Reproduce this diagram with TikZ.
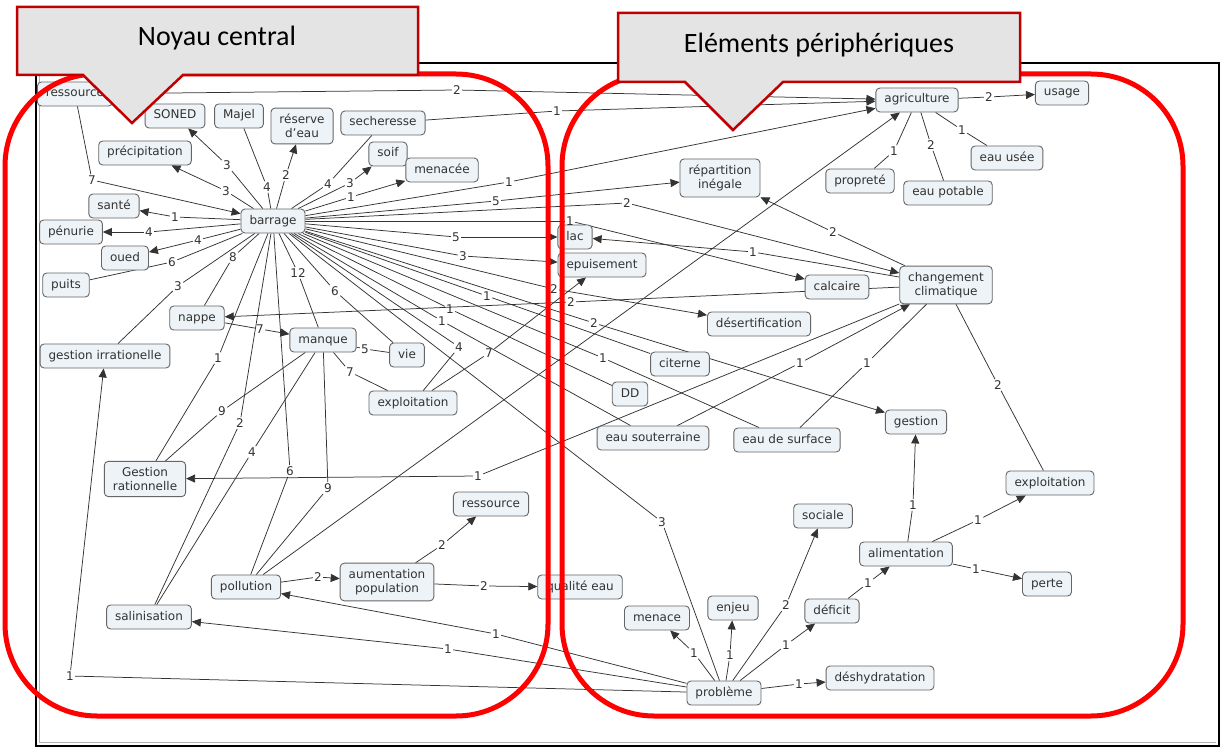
\documentclass[tikz,border=0pt]{standalone}
\usepackage{fontspec}
\setmainfont{DejaVu Sans}
\newfontfamily\calfont{Carlito}
\usetikzlibrary{arrows.meta}
\pgfdeclarelayer{bg}
\pgfdeclarelayer{edges}
\pgfdeclarelayer{top}
\pgfsetlayers{bg,edges,main,top}
\definecolor{nfill}{HTML}{EDF3F6}
\definecolor{nbord}{HTML}{666666}
\definecolor{tcol}{HTML}{333333}
\definecolor{ecol}{HTML}{333333}
\definecolor{cfill}{HTML}{E4E4E4}
\definecolor{cbord}{HTML}{C00000}
\tikzset{
 base/.style={draw=nbord, fill=nfill, rounded corners=4pt, line width=0.9pt, text=tcol, font=\fontsize{12}{14}\selectfont, inner xsep=8.5pt},
 cn/.style={base, text height=9pt, text depth=3pt, inner ysep=6pt},
 cn2/.style={base, align=center, inner ysep=6pt},
 lb/.style={text=tcol, font=\fontsize{12}{14}\selectfont, inner sep=1.2pt},
 ed/.style={draw=ecol, line width=0.75pt},
 ar/.style={ed, -{Triangle[length=9pt,width=8pt]}},
 redbox/.style={draw=red, line width=5pt, rounded corners=92pt},
 callout/.style={draw=cbord, fill=cfill, line width=2.5pt, line join=miter},
}
\newcommand\cmlink[4]{\draw[ed] (#1) -- (#2); \draw[#4] (#2) -- (#3);}
\begin{document}
\begin{tikzpicture}[x=1pt,y=-1pt]
\useasboundingbox (0,0) rectangle (1221,749);
\begin{pgfonlayer}{bg}
\fill[white] (0,0) rectangle (1221,749);
\draw[gray!60, line width=1.2pt] (39.5,66) -- (39.5,742.5) -- (1216,742.5);
\draw[black, line width=2.5pt] (36,63) rectangle (1219,746);
\end{pgfonlayer}
% nodes
\node[cn] (ress1) at (75,94) {ressource};
\node[cn] (soned) at (175,116) {SONED};
\node[cn] (majel) at (239,116) {Majel};
\node[cn2] (reserve) at (302,126) {réserve\\d'eau};
\node[cn] (sech) at (383,123) {secheresse};
\node[cn] (precip) at (145,153) {précipitation};
\node[cn] (soif) at (388,154) {soif};
\node[cn] (menacee) at (442,170) {menacée};
\node[cn] (sante) at (114,206) {santé};
\node[cn] (barrage) at (273,221) {barrage};
\node[cn] (penurie) at (71,232) {pénurie};
\node[cn] (oued) at (125,258) {oued};
\node[cn] (puits) at (66,285) {puits};
\node[cn] (nappe) at (197,318) {nappe};
\node[cn] (manque) at (323,340) {manque};
\node[cn] (vie) at (407,355) {vie};
\node[cn] (girr) at (105,356) {gestion irrationelle};
\node[cn] (expl1) at (413,403) {exploitation};
\node[cn2] (grat) at (145,479) {Gestion\\rationnelle};
\node[cn] (poll) at (246,587) {pollution};
\node[cn2] (aump) at (387,582) {aumentation\\population};
\node[cn] (salin) at (149,617) {salinisation};
\node[cn] (ress2) at (491,504) {ressource};
\node[cn] (qual) at (580,587) {qualité eau};
\node[cn] (lac) at (575,237) {lac};
\node[cn] (epuis) at (602,265) {epuisement};
\node[cn2] (repart) at (720,178) {répartition\\inégale};
\node[cn] (calc) at (837,287) {calcaire};
\node[cn] (desert) at (759,324) {désertification};
\node[cn] (citerne) at (680,364) {citerne};
\node[cn] (dd) at (630,394) {DD};
\node[cn] (esout) at (653,438) {eau souterraine};
\node[cn] (esurf) at (787,440) {eau de surface};
\node[cn2] (cc) at (946,285) {changement\\climatique};
\node[cn] (gestion) at (916,422) {gestion};
\node[cn] (expl2) at (1050,483) {exploitation};
\node[cn] (agri) at (917,100) {agriculture};
\node[cn] (usage) at (1062,93) {usage};
\node[cn] (eusee) at (1007,158) {eau usée};
\node[cn] (propr) at (860,181) {propreté};
\node[cn] (epot) at (948,193) {eau potable};
\node[cn] (sociale) at (823,516) {sociale};
\node[cn] (alim) at (906,554) {alimentation};
\node[cn] (perte) at (1047,584) {perte};
\node[cn] (deficit) at (832,611) {déficit};
\node[cn] (deshyd) at (880,678) {déshydratation};
\node[cn] (menace) at (657,618) {menace};
\node[cn] (enjeu) at (733,608) {enjeu};
\node[cn] (prob) at (724,693) {problème};
% labels
\node[lb] (L1) at (92,180) {7};
\node[lb] (L2) at (457,90) {2};
\node[lb] (L3) at (557,111) {1};
\node[lb] (L4) at (227,165) {3};
\node[lb] (L5) at (226,191) {3};
\node[lb] (L6) at (267,187) {4};
\node[lb] (L7) at (286,175) {2};
\node[lb] (L8) at (328,184) {4};
\node[lb] (L9) at (350,183) {3};
\node[lb] (L10) at (351,197) {1};
\node[lb] (L11) at (175,217) {1};
\node[lb] (L12) at (149,232) {4};
\node[lb] (L13) at (198,240) {4};
\node[lb] (L14) at (172,262) {6};
\node[lb] (L15) at (178,286) {3};
\node[lb] (L16) at (233,257) {8};
\node[lb] (L17) at (298,273) {12};
\node[lb] (L18) at (335,291) {6};
\node[lb] (L19) at (365,349) {5};
\node[lb] (L20) at (260,329) {7};
\node[lb] (L21) at (350,372) {7};
\node[lb] (L22) at (218,358) {1};
\node[lb] (L23) at (222,411) {9};
\node[lb] (L24) at (240,423) {2};
\node[lb] (L25) at (252,452) {4};
\node[lb] (L26) at (290,471) {6};
\node[lb] (L27) at (328,488) {9};
\node[lb] (L28) at (459,347) {4};
\node[lb] (L29) at (489,353) {7};
\node[lb] (L30) at (509,182) {1};
\node[lb] (L31) at (496,201) {5};
\node[lb] (L32) at (627,203) {2};
\node[lb] (L33) at (570,221) {1};
\node[lb] (L34) at (456,237) {5};
\node[lb] (L35) at (463,256) {3};
\node[lb] (L36) at (554,289) {2};
\node[lb] (L37) at (487,296) {1};
\node[lb] (L38) at (450,309) {1};
\node[lb] (L39) at (442,321) {1};
\node[lb] (L40) at (594,323) {2};
\node[lb] (L41) at (603,358) {1};
\node[lb] (L42) at (662,522) {3};
\node[lb] (L43) at (833,232) {2};
\node[lb] (L44) at (753,252) {1};
\node[lb] (L45) at (571,302) {2};
\node[lb] (L46) at (478,476) {1};
\node[lb] (L47) at (800,363) {1};
\node[lb] (L48) at (867,363) {1};
\node[lb] (L49) at (998,385) {2};
\node[lb] (L50) at (989,97) {2};
\node[lb] (L51) at (962,130) {1};
\node[lb] (L52) at (894,151) {1};
\node[lb] (L53) at (931,145) {2};
\node[lb] (L54) at (318,577) {2};
\node[lb] (L55) at (442,545) {2};
\node[lb] (L56) at (484,586) {2};
\node[lb] (L57) at (70,676) {1};
\node[lb] (L58) at (448,649) {1};
\node[lb] (L59) at (496,634) {1};
\node[lb] (L60) at (694,653) {1};
\node[lb] (L61) at (730,655) {1};
\node[lb] (L62) at (786,605) {2};
\node[lb] (L63) at (786,645) {1};
\node[lb] (L64) at (799,684) {1};
\node[lb] (L65) at (868,583) {1};
\node[lb] (L66) at (913,505) {1};
\node[lb] (L67) at (978,520) {1};
\node[lb] (L68) at (976,569) {1};
% edges
\begin{pgfonlayer}{edges}
\cmlink{ress1}{L1}{barrage}{ar}
\cmlink{ress1}{L2}{agri}{ar}
\cmlink{sech}{L3}{agri}{ar}
\cmlink{barrage}{L4}{soned}{ar}
\cmlink{barrage}{L5}{precip}{ar}
\cmlink{majel}{L6}{barrage}{ed}
\cmlink{barrage}{L7}{reserve}{ar}
\cmlink{sech}{L8}{barrage}{ed}
\cmlink{barrage}{L9}{soif}{ar}
\cmlink{barrage}{L10}{menacee}{ar}
\cmlink{barrage}{L11}{sante}{ar}
\cmlink{barrage}{L12}{penurie}{ar}
\cmlink{barrage}{L13}{oued}{ar}
\cmlink{puits}{L14}{barrage}{ed}
\cmlink{girr}{L15}{barrage}{ed}
\cmlink{nappe}{L16}{barrage}{ed}
\cmlink{barrage}{L17}{manque}{ed}
\cmlink{barrage}{L18}{vie}{ed}
\cmlink{manque}{L19}{vie}{ed}
\cmlink{nappe}{L20}{manque}{ar}
\cmlink{manque}{L21}{expl1}{ed}
\cmlink{grat}{L22}{barrage}{ed}
\cmlink{grat}{L23}{manque}{ed}
\cmlink{salin}{L24}{barrage}{ed}
\cmlink{salin}{L25}{manque}{ed}
\cmlink{poll}{L26}{barrage}{ed}
\cmlink{poll}{L27}{manque}{ed}
\cmlink{expl1}{L28}{barrage}{ed}
\cmlink{expl1}{L29}{epuis}{ar}
\cmlink{barrage}{L30}{agri}{ar}
\cmlink{barrage}{L31}{repart}{ar}
\cmlink{barrage}{L32}{cc}{ar}
\cmlink{barrage}{L33}{calc}{ar}
\cmlink{barrage}{L34}{lac}{ar}
\cmlink{barrage}{L35}{epuis}{ar}
\cmlink{barrage}{L36}{desert}{ar}
\cmlink{barrage}{L37}{citerne}{ed}
\cmlink{barrage}{L38}{dd}{ed}
\cmlink{barrage}{L39}{esout}{ed}
\cmlink{barrage}{L40}{gestion}{ar}
\cmlink{barrage}{L41}{esurf}{ed}
\cmlink{barrage}{L42}{prob}{ed}
\cmlink{cc}{L43}{repart}{ar}
\cmlink{cc}{L44}{lac}{ar}
\cmlink{cc}{L45}{nappe}{ar}
\cmlink{cc}{L46}{grat}{ar}
\cmlink{esout}{L47}{cc}{ar}
\cmlink{esurf}{L48}{cc}{ed}
\cmlink{cc}{L49}{expl2}{ed}
\cmlink{agri}{L50}{usage}{ar}
\cmlink{agri}{L51}{eusee}{ed}
\cmlink{agri}{L52}{propr}{ed}
\cmlink{agri}{L53}{epot}{ed}
\cmlink{poll}{L54}{aump}{ar}
\cmlink{aump}{L55}{ress2}{ar}
\cmlink{aump}{L56}{qual}{ar}
\cmlink{prob}{L57}{girr}{ar}
\cmlink{prob}{L58}{salin}{ar}
\cmlink{prob}{L59}{poll}{ar}
\cmlink{prob}{L60}{menace}{ar}
\cmlink{prob}{L61}{enjeu}{ar}
\cmlink{prob}{L62}{sociale}{ar}
\cmlink{prob}{L63}{deficit}{ar}
\cmlink{prob}{L64}{deshyd}{ar}
\cmlink{deficit}{L65}{alim}{ar}
\cmlink{alim}{L66}{gestion}{ar}
\cmlink{alim}{L67}{expl2}{ar}
\cmlink{alim}{L68}{perte}{ar}
\draw[ar] (poll) -- (agri);
\end{pgfonlayer}
% red groups and callouts
\begin{pgfonlayer}{top}
\draw[redbox] (5,74) rectangle (548,716);
\draw[redbox] (562,74) rectangle (1183,716);
\draw[callout] (17,7) -- (418,7) -- (418,75) -- (183,75) -- (132,123) -- (83,75) -- (17,75) -- cycle;
\node[font=\calfont\fontsize{28}{32}\selectfont, text=black] (t1) at (217,38) {Noyau central};
\draw[callout] (618,13) -- (1020,13) -- (1020,82) -- (783,82) -- (733,130) -- (685,82) -- (618,82) -- cycle;
\node[font=\calfont\fontsize{28}{32}\selectfont, text=black] (t2) at (819,45) {Eléments périphériques};
\end{pgfonlayer}
\end{tikzpicture}
\end{document}
